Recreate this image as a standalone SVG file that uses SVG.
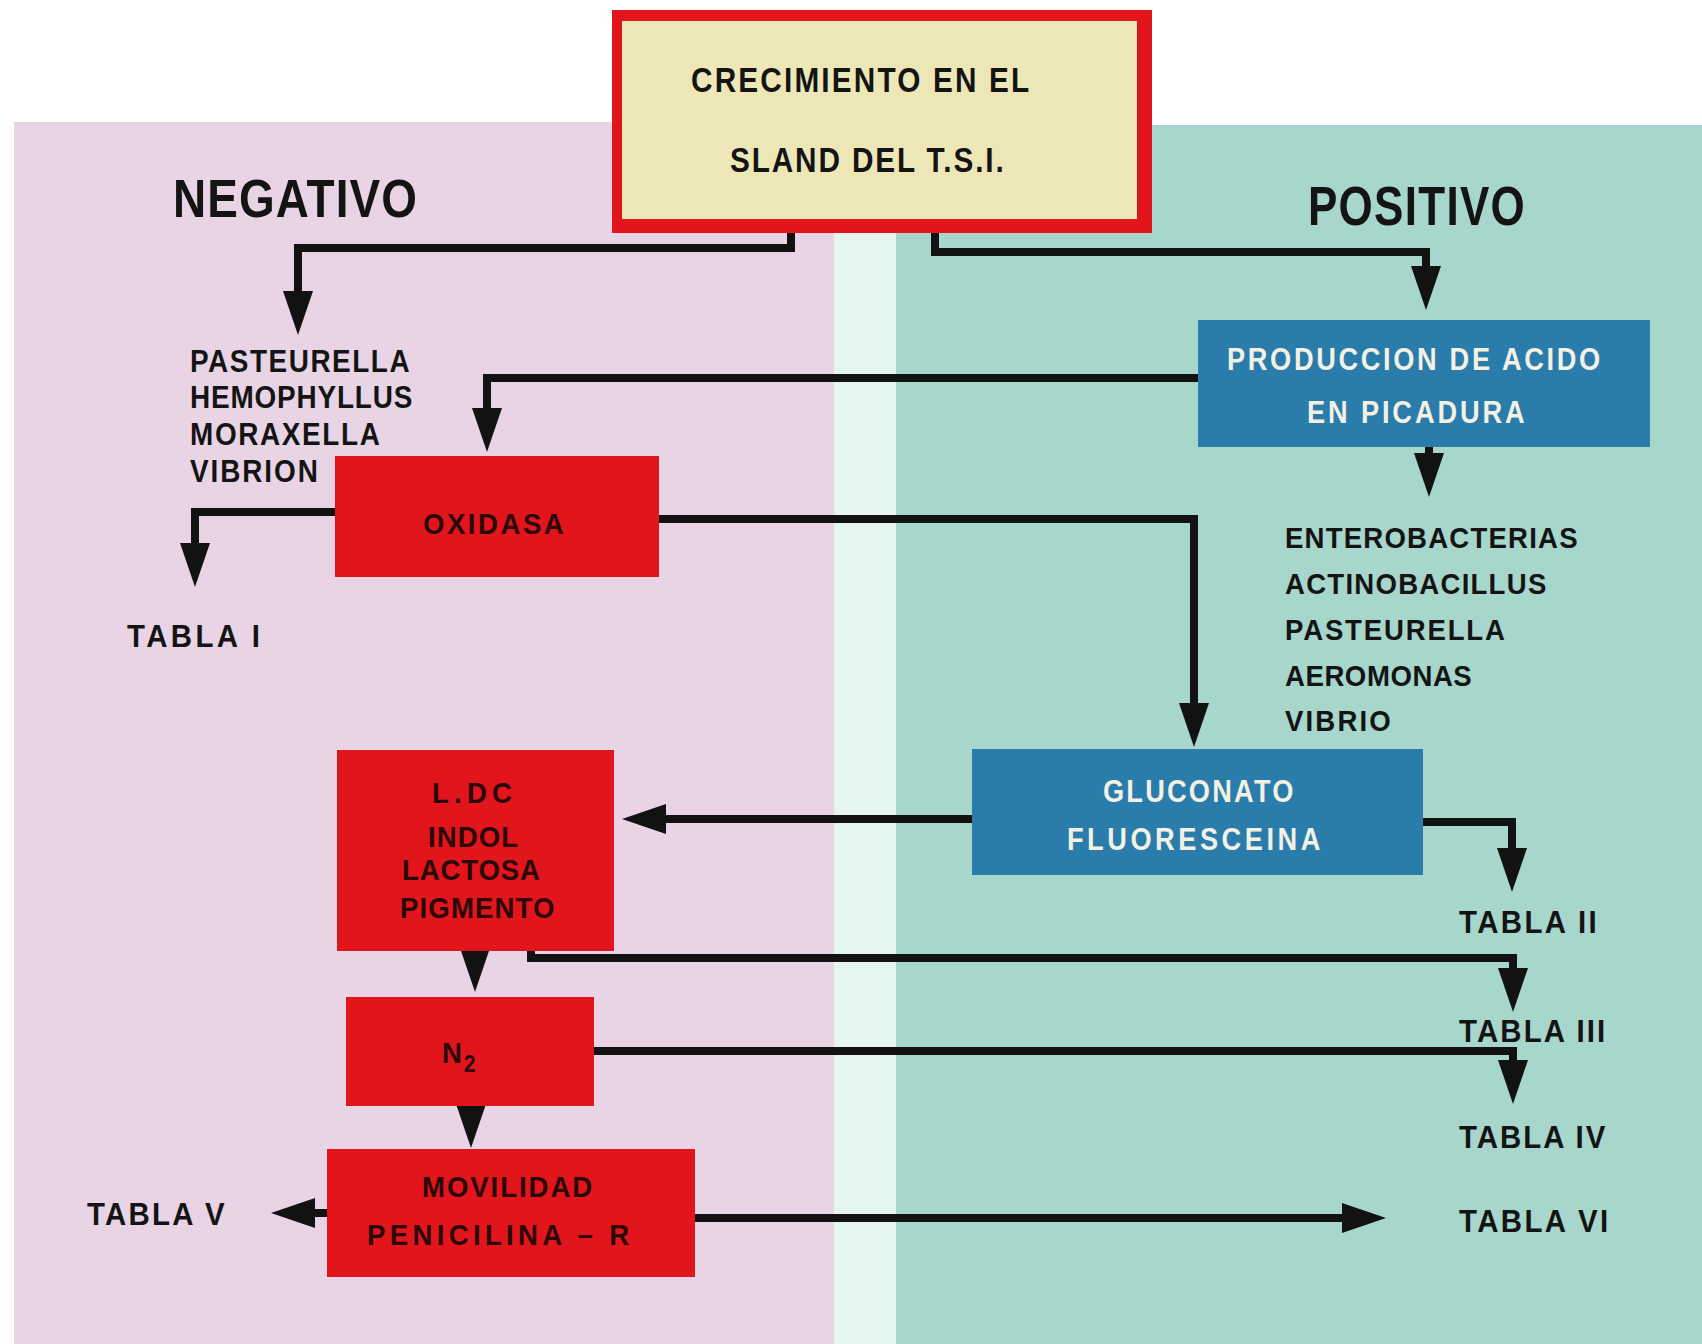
<svg xmlns="http://www.w3.org/2000/svg" width="1702" height="1344" viewBox="0 0 1702 1344">
  <defs>
    <style>
      .t { font-family: "Liberation Sans", Arial, sans-serif; font-weight: bold; fill: #141414; }
      .w { fill: #f3f0e4; }
      .d { fill: #2a0806; }
      .red { fill: #e2151c; }
      .blue { fill: #2a7cab; }
      .conn { fill: none; stroke: #121212; stroke-width: 8; stroke-linejoin: miter; stroke-linecap: butt; }
    </style>
    <marker id="ah" markerUnits="userSpaceOnUse" viewBox="0 0 44 30" markerWidth="44" markerHeight="30" refX="24" refY="15" orient="auto">
      <path d="M0,0 L44,15 L0,30 Z" fill="#121212"/>
    </marker>
  </defs>

  <!-- background -->
  <rect x="0" y="0" width="1702" height="1344" fill="#ffffff"/>
  <rect x="14" y="122" width="820" height="1222" fill="#e8d4e5"/>
  <rect x="834" y="122" width="62" height="1222" fill="#e5f5f0"/>
  <rect x="896" y="125" width="806" height="1219" fill="#a7d6cc"/>

  <!-- connectors -->
  <g id="connectors" class="conn">
    <path d="M791 228 V248 H298 V315" marker-end="url(#ah)"/>
    <path d="M935 228 V252 H1426 V290" marker-end="url(#ah)"/>
    <path d="M1200 378 H487 V432" marker-end="url(#ah)"/>
    <path d="M1429 445 V477" marker-end="url(#ah)"/>
    <path d="M337 512 H195 V567" marker-end="url(#ah)"/>
    <path d="M657 519 H1194 V727" marker-end="url(#ah)"/>
    <path d="M974 819 H642" marker-end="url(#ah)"/>
    <path d="M1421 822 H1512 V872" marker-end="url(#ah)"/>
    <path d="M475 945 V972" marker-end="url(#ah)"/>
    <path d="M531 945 V958 H1513 V992" marker-end="url(#ah)"/>
    <path d="M592 1051 H1513 V1084" marker-end="url(#ah)"/>
    <path d="M471 1100 V1128" marker-end="url(#ah)"/>
    <path d="M329 1213 H291" marker-end="url(#ah)"/>
    <path d="M693 1218 H1366" marker-end="url(#ah)"/>
  </g>

  <!-- free labels -->
  <g id="label-negativo">
    <text class="t" transform="translate(173 217) scale(.85 1)" font-size="54" textLength="287" lengthAdjust="spacing">NEGATIVO</text>
  </g>
  <g id="label-positivo">
    <text class="t" transform="translate(1308 225) scale(.8 1)" font-size="55" textLength="271" lengthAdjust="spacing">POSITIVO</text>
  </g>
  <g id="list-negativo" font-size="31">
    <text class="t" transform="translate(190 372) scale(.9 1)" textLength="244" lengthAdjust="spacing">PASTEURELLA</text>
    <text class="t" transform="translate(190 408) scale(.9 1)" textLength="247" lengthAdjust="spacing">HEMOPHYLLUS</text>
    <text class="t" transform="translate(190 445) scale(.9 1)" textLength="211" lengthAdjust="spacing">MORAXELLA</text>
    <text class="t" transform="translate(190 482) scale(.9 1)" textLength="142" lengthAdjust="spacing">VIBRION</text>
  </g>
  <g id="list-positivo" font-size="30">
    <text class="t" transform="translate(1285 548) scale(.92 1)" textLength="318" lengthAdjust="spacing">ENTEROBACTERIAS</text>
    <text class="t" transform="translate(1285 594) scale(.92 1)" textLength="284" lengthAdjust="spacing">ACTINOBACILLUS</text>
    <text class="t" transform="translate(1285 640) scale(.92 1)" textLength="239" lengthAdjust="spacing">PASTEURELLA</text>
    <text class="t" transform="translate(1285 686) scale(.92 1)" textLength="203" lengthAdjust="spacing">AEROMONAS</text>
    <text class="t" transform="translate(1285 731) scale(.92 1)" textLength="115" lengthAdjust="spacing">VIBRIO</text>
  </g>
  <g id="tabla-i"><text class="t" transform="translate(127 647) scale(.95 1)" font-size="31" textLength="140" lengthAdjust="spacing">TABLA I</text></g>
  <g id="tabla-ii"><text class="t" transform="translate(1459 933) scale(.95 1)" font-size="31" textLength="145" lengthAdjust="spacing">TABLA II</text></g>
  <g id="tabla-iii"><text class="t" transform="translate(1459 1042) scale(.95 1)" font-size="31" textLength="154" lengthAdjust="spacing">TABLA III</text></g>
  <g id="tabla-iv"><text class="t" transform="translate(1459 1148) scale(.95 1)" font-size="31" textLength="154" lengthAdjust="spacing">TABLA IV</text></g>
  <g id="tabla-v"><text class="t" transform="translate(87 1225) scale(.95 1)" font-size="31" textLength="145" lengthAdjust="spacing">TABLA V</text></g>
  <g id="tabla-vi"><text class="t" transform="translate(1459 1232) scale(.95 1)" font-size="31" textLength="157" lengthAdjust="spacing">TABLA VI</text></g>

  <!-- nodes -->
  <g id="node-crecimiento">
    <rect x="612" y="10" width="540" height="223" class="red"/>
    <rect x="622" y="21" width="515" height="198" fill="#ede7b8"/>
    <text class="t" transform="translate(691 92) scale(.85 1)" font-size="35" textLength="398" lengthAdjust="spacing">CRECIMIENTO EN EL</text>
    <text class="t" transform="translate(730 172) scale(.85 1)" font-size="35" textLength="322" lengthAdjust="spacing">SLAND DEL T.S.I.</text>
  </g>
  <g id="node-produccion">
    <rect x="1198" y="320" width="452" height="127" class="blue"/>
    <text class="t w" transform="translate(1227 370) scale(.85 1)" font-size="32" textLength="439" lengthAdjust="spacing">PRODUCCION DE ACIDO</text>
    <text class="t w" transform="translate(1307 423) scale(.85 1)" font-size="32" textLength="256" lengthAdjust="spacing">EN PICADURA</text>
  </g>
  <g id="node-oxidasa">
    <rect x="335" y="456" width="324" height="121" class="red"/>
    <text class="t d" transform="translate(423 534) scale(.92 1)" font-size="30" textLength="153" lengthAdjust="spacing">OXIDASA</text>
  </g>
  <g id="node-gluconato">
    <rect x="972" y="749" width="451" height="126" class="blue"/>
    <text class="t w" transform="translate(1103 802) scale(.85 1)" font-size="32" textLength="224" lengthAdjust="spacing">GLUCONATO</text>
    <text class="t w" transform="translate(1067 850) scale(.85 1)" font-size="32" textLength="298" lengthAdjust="spacing">FLUORESCEINA</text>
  </g>
  <g id="node-ldc">
    <rect x="337" y="750" width="277" height="201" class="red"/>
    <text class="t d" transform="translate(432 803) scale(.92 1)" font-size="30" textLength="87" lengthAdjust="spacing">L.DC</text>
    <text class="t d" transform="translate(428 847) scale(.92 1)" font-size="30" textLength="98" lengthAdjust="spacing">INDOL</text>
    <text class="t d" transform="translate(402 880) scale(.92 1)" font-size="30" textLength="150" lengthAdjust="spacing">LACTOSA</text>
    <text class="t d" transform="translate(400 918) scale(.92 1)" font-size="30" textLength="168" lengthAdjust="spacing">PIGMENTO</text>
  </g>
  <g id="node-n2">
    <rect x="346" y="997" width="248" height="109" class="red"/>
    <text class="t d" transform="translate(442 1063) scale(.92 1)" font-size="30">N<tspan font-size="23" dy="9" dx="2">2</tspan></text>
  </g>
  <g id="node-movilidad">
    <rect x="327" y="1149" width="368" height="128" class="red"/>
    <text class="t d" transform="translate(422 1197) scale(.92 1)" font-size="30" textLength="185" lengthAdjust="spacing">MOVILIDAD</text>
    <text class="t d" transform="translate(367 1245) scale(.92 1)" font-size="30" textLength="285" lengthAdjust="spacing">PENICILINA – R</text>
  </g>
</svg>
